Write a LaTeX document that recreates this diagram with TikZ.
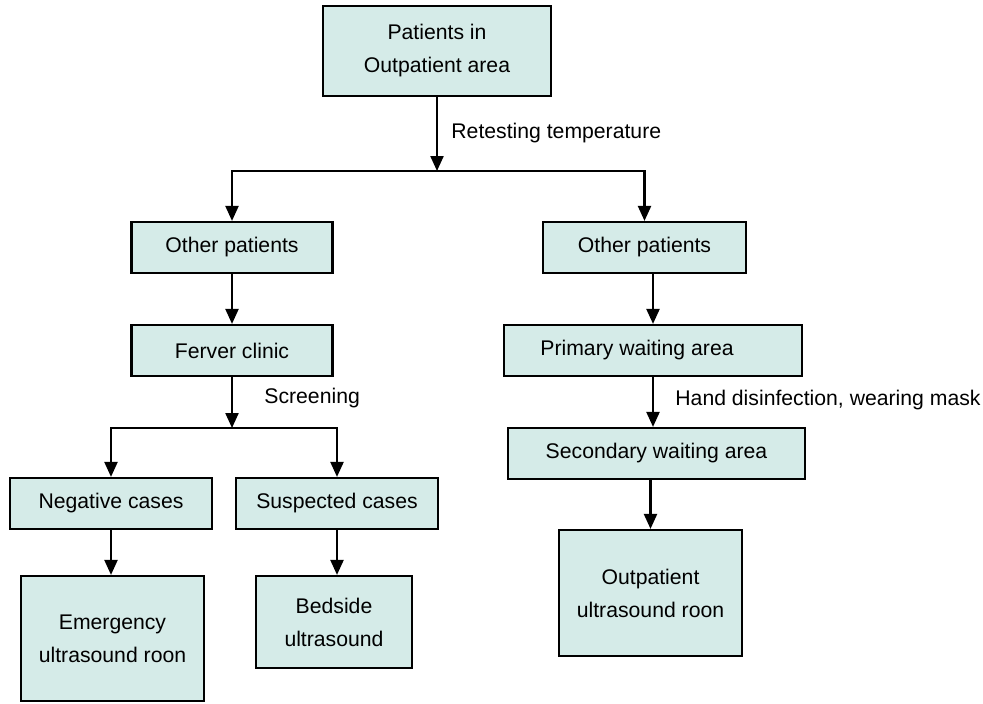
\documentclass[tikz,border=0pt]{standalone}
\usepackage{fontspec}
\setmainfont{Liberation Sans}
\usetikzlibrary{arrows.meta}
\definecolor{boxfill}{RGB}{213,235,232}
\tikzset{
  box/.style={draw, line width=1.1pt, fill=boxfill, align=center, inner sep=0pt,
    font=\fontsize{10.6}{16.5}\selectfont},
  flow/.style={line width=1.1pt, -{Triangle[length=7.5pt,width=6.5pt]}},
  lbl/.style={anchor=west, inner sep=0pt, font=\fontsize{10.6}{13}\selectfont}
}
\begin{document}
\begin{tikzpicture}[x=0.5pt, y=-0.5pt]
        \useasboundingbox (0, 0) rectangle (983, 703);
        \node[box, minimum width=114pt, minimum height=45pt] (top) at (437, 51) {Patients in\\Outpatient area};
        \node[box, minimum width=100.5pt, minimum height=25.5pt] (lop) at (232, 247.5) {Other patients};
        \node[box, minimum width=101.5pt, minimum height=25.5pt] (rop) at (644.5, 247.5) {Other patients};
        \node[box, minimum width=100.5pt, minimum height=25.5pt] (fever) at (232, 350.5) {Ferver clinic};
        \node[box, minimum width=149pt, minimum height=25.5pt] (primary) at (653, 350.5) {Primary waiting area\hspace{16pt}};
        \node[box, minimum width=148.5pt, minimum height=25.5pt] (secondary) at (656.5, 453.5) {Secondary waiting area};
        \node[box, minimum width=91.5pt, minimum height=63pt] (outp) at (650.5, 593) {Outpatient\\ultrasound roon};
        \node[box, minimum width=101pt, minimum height=25.5pt] (neg) at (111, 503.5) {Negative cases};
        \node[box, minimum width=101pt, minimum height=25.5pt] (susp) at (337, 503.5) {Suspected cases};
        \node[box, minimum width=91.5pt, minimum height=62.5pt] (emerg) at (112.5, 638.5) {Emergency\\ultrasound roon};
        \node[box, minimum width=78pt, minimum height=46pt] (bed) at (334, 622) {Bedside\\ultrasound};
        \coordinate (split) at (437, 171);
        \coordinate (scr) at (232, 428);
        \draw[flow] (top) -- (split);
        \draw[line width=1.3pt] (lop.north |- split) -- (rop.north |- split);
        \draw[flow] (split) -| (lop.north);
        \draw[flow] (split) -| (rop.north);
        \draw[flow] (lop) -- (fever);
        \draw[flow] (rop.south -| primary.north) -- (primary.north);
        \draw[flow] (primary.south) -- (primary.south |- secondary.north);
        \draw[flow] (outp.north |- secondary.south) -- (outp.north);
        \draw[line width=1.3pt] (neg.north |- scr) -- (susp.north |- scr);
        \draw[flow] (fever.south) -- (scr);
        \draw[flow] (scr) -| (neg.north);
        \draw[flow] (scr) -| (susp.north);
        \draw[flow] (neg) -- (neg.south |- emerg.north);
        \draw[flow] (susp) -- (susp.south |- bed.north);
        \node[lbl] (retest) at (451, 133) {Retesting temperature};
        \node[lbl] (screen) at (264, 398) {Screening};
        \node[lbl] (hand) at (675, 400) {Hand disinfection, wearing mask};
\end{tikzpicture}
\end{document}
